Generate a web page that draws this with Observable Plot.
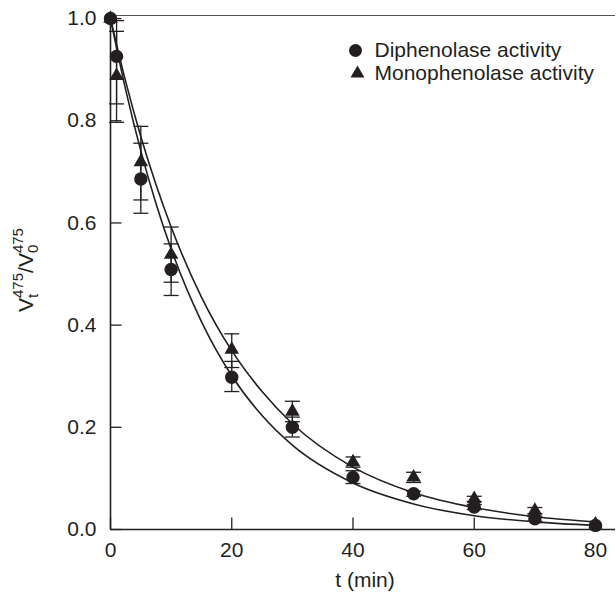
<!DOCTYPE html>
<html>
<head>
<meta charset="utf-8">
<script src="https://cdn.jsdelivr.net/npm/d3@7"></script>
<script src="https://cdn.jsdelivr.net/npm/@observablehq/plot@0.6"></script>
<style>
  html, body { margin: 0; padding: 0; background: #fff; }
  svg { display: block; }
</style>
</head>
<body>
<div id="chart"></div>
<script>
// ---- data ----
const times = [0, 1, 5, 10, 20, 30, 40, 50, 60, 70, 80];
const diphenolase = [1.0, 0.926, 0.686, 0.509, 0.298, 0.200, 0.102, 0.070, 0.044, 0.021, 0.008];
const diphLow  = [null, 0.833, 0.619, 0.458, 0.270, 0.181, 0.090, 0.065, 0.039, 0.016, null];
const diphHigh = [null, 0.996, 0.756, 0.559, 0.329, 0.220, 0.115, 0.075, 0.049, 0.026, null];
const monophenolase = [1.0, 0.888, 0.719, 0.538, 0.352, 0.231, 0.132, 0.102, 0.060, 0.037, 0.010];
const monoLow  = [null, 0.797, 0.645, 0.484, 0.317, 0.211, 0.122, 0.092, 0.055, 0.031, null];
const monoHigh = [null, 0.975, 0.789, 0.592, 0.383, 0.251, 0.142, 0.112, 0.065, 0.043, null];

// fitted curves
const fitTimes = [0, 2.5, 5, 7.5, 10, 15, 20, 25, 30, 40, 50, 60, 70, 80];
const fitDiphenolase   = [1.0, 0.861, 0.741, 0.638, 0.549, 0.407, 0.301, 0.223, 0.165, 0.091, 0.050, 0.027, 0.015, 0.008];
const fitMonophenolase = [1.0, 0.877, 0.769, 0.675, 0.592, 0.455, 0.350, 0.270, 0.207, 0.122, 0.072, 0.043, 0.025, 0.015];

const xTicks = [0, 20, 40, 60, 80];
const yTicks = [0, 0.2, 0.4, 0.6, 0.8, 1.0];
const seriesNames = ["Diphenolase activity", "Monophenolase activity"];
const xLabel = "t (min)";

// ---- tables ----
const points = [];
times.forEach((t, i) => {
  points.push({t, v: diphenolase[i], lo: diphLow[i], hi: diphHigh[i], s: "d"});
  points.push({t, v: monophenolase[i], lo: monoLow[i], hi: monoHigh[i], s: "m"});
});
const bars = points.filter(d => d.lo != null);
const caps = bars.flatMap(d => [{t: d.t, y: d.lo}, {t: d.t, y: d.hi}]);
const fitD = fitTimes.map((t, i) => ({t, v: fitDiphenolase[i]}));
const fitM = fitTimes.map((t, i) => ({t, v: fitMonophenolase[i]}));

const ink = "#231f20";
const font = "'Liberation Sans', Arial, sans-serif";
const capSymbol = { draw(ctx) { ctx.moveTo(-7.5, 0); ctx.lineTo(7.5, 0); } };
const yTickSymbol = { draw(ctx) { ctx.moveTo(0, 0); ctx.lineTo(11, 0); } };
const xTickSymbol = { draw(ctx) { ctx.moveTo(0, 0); ctx.lineTo(0, -12); } };

const chart = Plot.plot({
  width: 616,
  height: 593,
  marginLeft: 110,
  marginRight: 1,
  marginTop: 15,
  marginBottom: 64,
  style: { fontFamily: font, fontSize: "21px", color: ink, background: "#fff" },
  x: { domain: [0, 83.3], ticks: xTicks, tickSize: 0, tickPadding: 13, tickFormat: d => String(d), label: null },
  y: { domain: [0, 1.006], ticks: yTicks, tickSize: 0, tickPadding: 14, tickFormat: d => d.toFixed(1), label: null },
  marks: [
    // frame
    Plot.ruleY([1.006], { stroke: "#555", strokeWidth: 1.2 }),
    Plot.ruleX([0], { stroke: ink, strokeWidth: 1.6 }),
    Plot.ruleY([0], { stroke: ink, strokeWidth: 1.6 }),
    // inward ticks
    Plot.dot(yTicks, { y: d => d, frameAnchor: "left", symbol: yTickSymbol, fill: "none", stroke: ink, strokeWidth: 1.3 }),
    Plot.dot(xTicks, { x: d => d, frameAnchor: "bottom", symbol: xTickSymbol, fill: "none", stroke: ink, strokeWidth: 1.3 }),
    // fitted curves
    Plot.line(fitD, { x: "t", y: "v", curve: "monotone-x", stroke: ink, strokeWidth: 1.6 }),
    Plot.line(fitM, { x: "t", y: "v", curve: "monotone-x", stroke: ink, strokeWidth: 1.6 }),
    // error bars
    Plot.ruleX(bars, { x: "t", y1: "lo", y2: "hi", stroke: ink, strokeWidth: 1.3 }),
    Plot.dot(caps, { x: "t", y: "y", symbol: capSymbol, fill: "none", stroke: ink, strokeWidth: 1.3 }),
    // points
    Plot.dot(points.filter(d => d.s === "d"), { x: "t", y: "v", symbol: "circle", r: 6.7, fill: ink, stroke: "none" }),
    Plot.dot(points.filter(d => d.s === "m"), { x: "t", y: "v", symbol: "triangle", r: 5.4, fill: ink, stroke: "none" }),
    // legend
    Plot.dot([seriesNames[0]], { frameAnchor: "top-left", dx: 245, dy: 35, symbol: "circle", r: 6.5, fill: ink, stroke: "none" }),
    Plot.dot([seriesNames[1]], { frameAnchor: "top-left", dx: 247, dy: 58, symbol: "triangle", r: 5.2, fill: ink, stroke: "none" }),
    Plot.text([seriesNames[0]], { text: d => d, frameAnchor: "top-left", dx: 264, dy: 35, textAnchor: "start", lineAnchor: "middle", fontSize: 21, fill: ink }),
    Plot.text([seriesNames[1]], { text: d => d, frameAnchor: "top-left", dx: 264, dy: 58, textAnchor: "start", lineAnchor: "middle", fontSize: 21, fill: ink }),
    // x label
    Plot.text([xLabel], { text: d => d, frameAnchor: "bottom", dx: 2, dy: 51, lineAnchor: "middle", fontSize: 21, fill: ink })
  ]
});

// y label with stacked sub/superscripts
const svg = d3.select(chart);
const lbl = svg.append("text")
  .attr("transform", "translate(33,270) rotate(-90)")
  .attr("text-anchor", "middle")
  .attr("fill", ink)
  .style("font-family", font)
  .style("font-size", "21px");
lbl.append("tspan").text("V");
lbl.append("tspan").attr("dy", 5).style("font-size", "15px").text("t");
lbl.append("tspan").attr("dx", -4.2).attr("dy", -15).style("font-size", "15px").text("475");
lbl.append("tspan").attr("dy", 10).text("/V");
lbl.append("tspan").attr("dy", 5).style("font-size", "15px").text("0");
lbl.append("tspan").attr("dx", -8.3).attr("dy", -15).style("font-size", "15px").text("475");

document.getElementById("chart").appendChild(chart);
</script>
</body>
</html>
